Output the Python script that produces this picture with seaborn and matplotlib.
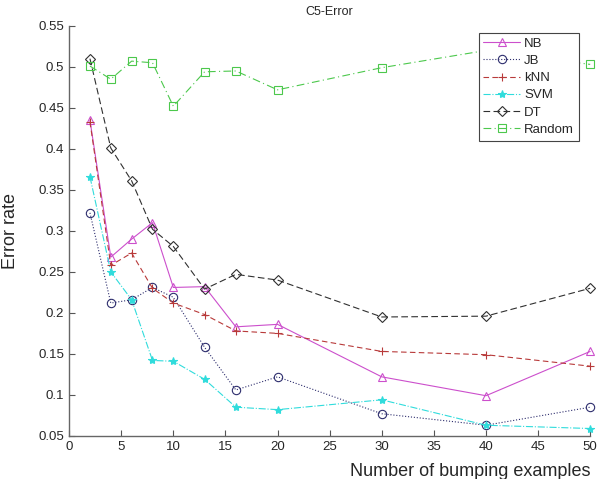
import matplotlib
matplotlib.use("Agg")
import matplotlib.pyplot as plt
import seaborn as sns

x = [2, 4, 6, 8, 10, 13, 16, 20, 30, 40, 50]
nb = [0.435, 0.268, 0.290, 0.310, 0.231, 0.232, 0.183, 0.186, 0.122, 0.099, 0.153]
jb = [0.322, 0.212, 0.216, 0.231, 0.219, 0.158, 0.106, 0.122, 0.077, 0.063, 0.085]
knn = [0.433, 0.258, 0.273, 0.230, 0.212, 0.198, 0.178, 0.175, 0.153, 0.149, 0.135]
svm = [0.366, 0.250, 0.216, 0.142, 0.141, 0.119, 0.085, 0.082, 0.094, 0.063, 0.059]
dt = [0.510, 0.401, 0.361, 0.302, 0.281, 0.229, 0.247, 0.240, 0.195, 0.196, 0.230]
rnd = [0.501, 0.485, 0.507, 0.505, 0.452, 0.494, 0.495, 0.472, 0.499, 0.520, 0.503]

sns.set_style("white")
plt.rcParams['font.family'] = ['Liberation Sans', 'DejaVu Sans']

fig = plt.figure(figsize=(6.01, 4.79), dpi=100)
ax = fig.add_axes([0.115, 0.09, 0.867, 0.856])

# name, values, colour, linestyle, marker
series = [
    ("NB", nb, "#cc4fcc", "-", "^"),
    ("JB", jb, "#2e2e6e", ":", "o"),
    ("kNN", knn, "#b83a3a", (0, (5, 3)), "+"),
    ("SVM", svm, "#30dcdc", "-.", "*"),
    ("DT", dt, "#303030", (0, (6, 3)), "D"),
    ("Random", rnd, "#4cc84c", (0, (7, 3, 1, 3)), "s"),
]

for name, vals, col, ls, mk in series:
    filled = mk in ("+", "*")
    sns.lineplot(x=x, y=vals, ax=ax, color=col, linestyle=ls, linewidth=0.8,
                 marker=mk, markersize=6 if mk != "D" else 5,
                 markerfacecolor=col if filled else "none",
                 markeredgecolor=col, markeredgewidth=0.8, label=name,
                 clip_on=False)

ax.set_xlim(0, 50)
ax.set_ylim(0.05, 0.55)
ax.set_xticks(range(0, 51, 5))
ax.set_yticks([0.05, 0.1, 0.15, 0.2, 0.25, 0.3, 0.35, 0.4, 0.45, 0.5, 0.55])
ax.set_yticklabels(["0.05", "0.1", "0.15", "0.2", "0.25", "0.3", "0.35", "0.4", "0.45", "0.5", "0.55"])
ax.tick_params(direction="in", length=4, labelsize=9.5, width=0.8, color="#555555",
               left=True, bottom=True)
sns.despine(ax=ax)
for s in ("left", "bottom"):
    ax.spines[s].set_color("#666666")
    ax.spines[s].set_linewidth(1.0)

ax.set_title("C5-Error", fontsize=9, pad=8)
ax.set_ylabel("Error rate", fontsize=13, labelpad=14)
ax.set_xlabel("Number of bumping examples", fontsize=13)
ax.xaxis.set_label_coords(1.0, -0.065)
ax.xaxis.label.set_horizontalalignment("right")

leg = ax.legend(loc="upper right", bbox_to_anchor=(0.978, 0.983), fontsize=9.5,
                frameon=True, fancybox=False, handlelength=2.8, framealpha=1.0,
                borderpad=0.35, labelspacing=0.38, handletextpad=0.3,
                borderaxespad=0.0)
leg.set_zorder(5)
leg.get_frame().set_edgecolor("#444444")
leg.get_frame().set_linewidth(0.8)

fig.savefig("out.png", dpi=100)
